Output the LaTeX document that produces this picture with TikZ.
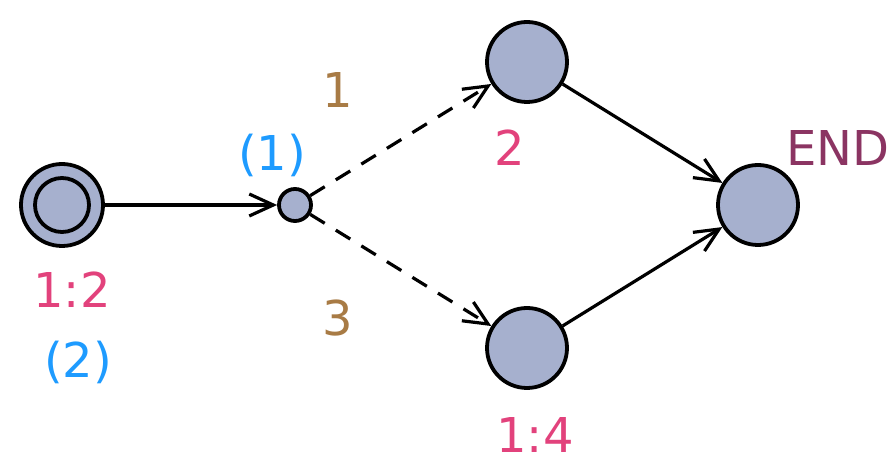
\documentclass[tikz,border=0pt]{standalone}
\usepackage{fontspec}
\setmainfont{DejaVu Sans}
\usetikzlibrary{arrows.meta}
\definecolor{statefill}{HTML}{A6B0CE}
\definecolor{namecol}{HTML}{E2427C}
\definecolor{invcol}{HTML}{1E9BFF}
\definecolor{probcol}{HTML}{A87B45}
\definecolor{endcol}{HTML}{8B3462}

\tikzstyle{state}=[circle,draw=black,line width=1.9pt,fill=statefill,minimum size=40pt,inner sep=0pt]
\tikzstyle{branch}=[circle,draw=black,line width=1.9pt,fill=statefill,minimum size=16pt,inner sep=0pt]
\tikzstyle{initial}=[state,minimum size=41pt,path picture={\draw[line width=1.9pt] (path picture bounding box.center) circle (13.5pt);}]
\tikzstyle{lbl}=[font=\fontsize{24}{28}\selectfont,inner sep=0pt]
\tikzstyle{edge} = [draw,line width=1.6pt,->]
\tikzstyle{prob edge} = [draw,line width=1.6pt,->,dash pattern=on 8.5pt off 6.5pt]

\begin{document}
\begin{tikzpicture}[x=0.5pt,y=-0.5pt,>={Straight Barb[length=12pt,width=11pt,line width=1.6pt]}]
			\useasboundingbox (0,0) rectangle (896,470);
			\node[initial] (s0) at (62,205) {};
			\node[branch] (br) at (295,205) {};
			\node[state] (s2) at (527,62) {};
			\node[state] (s4) at (527,348) {};
			\node[state] (fin) at (758,205) {};
	    		% labels
			\node[lbl,text=namecol] (n0) at (72,290) {1:2};
			\node[lbl,text=invcol] (i0) at (78,362) {(2)};
			\node[lbl,text=invcol] (ib) at (272,155) {(1)};
			\node[lbl,text=probcol] (p1) at (338,90) {1};
			\node[lbl,text=probcol] (p3) at (338,318) {3};
			\node[lbl,text=namecol] (n2) at (510,148) {2};
			\node[lbl,text=namecol] (n4) at (535,435) {1:4};
			\node[lbl,text=endcol] (nf) at (838,148) {END};
	   		 % Connect states with edges
			\path[edge] (s0) to (br);
	   		 \foreach \source/ \dest in {br/s2, br/s4}
			 \path[prob edge] (\source) to (\dest);
	   		 \foreach \source/ \dest in {s2/fin, s4/fin}
			 \path[edge] (\source) to (\dest);
		\end{tikzpicture}
\end{document}
